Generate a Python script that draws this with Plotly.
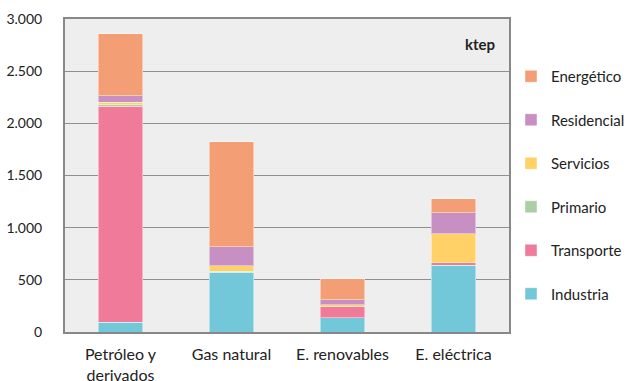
import plotly.graph_objects as go

categories = ["Petróleo y<br>derivados", "Gas natural", "E. renovables", "E. eléctrica"]

industria = [95, 575, 137, 642]
transporte = [2070, 3, 103, 20]
primario = [15, 2, 3, 2]
servicios = [20, 53, 19, 278]
residencial = [65, 185, 48, 200]
energetico = [595, 1007, 200, 134]

series = [
    ("Industria", industria, "#72C7D8"),
    ("Transporte", transporte, "#EF7A9A"),
    ("Primario", primario, "#A9CFA3"),
    ("Servicios", servicios, "#FFD166"),
    ("Residencial", residencial, "#C78FC2"),
    ("Energético", energetico, "#F39E74"),
]

fig = go.Figure()
n = len(series)
for i, (name, vals, color) in enumerate(series):
    fig.add_trace(go.Bar(
        name=name, x=categories, y=vals, legendgroup=name, legendrank=n - i,
        marker=dict(color=color, line=dict(color="rgba(255,255,255,0.45)", width=1)),
    ))

fig.update_layout(
    width=631, height=381,
    margin=dict(l=65, r=122, t=19, b=49, autoexpand=False),
    barmode="stack", bargap=0.6,
    paper_bgcolor="white", plot_bgcolor="#EEEEEE",
    font=dict(family="Lato", size=14, color="#222222"),
    separators=",.",
    showlegend=True,
    legend=dict(
        x=1.0045, y=0.869, xanchor="left", yanchor="top",
        traceorder="grouped", tracegroupgap=21,
        font=dict(size=15, color="#222222"), itemwidth=30,
    ),
    xaxis=dict(
        showline=True, linecolor="#888888", linewidth=2, mirror=True,
        ticks="", tickfont=dict(size=16), automargin=False,
        ticklabelstandoff=7,
    ),
    yaxis=dict(
        range=[0, 3000], dtick=500, tickformat=",d",
        showgrid=True, gridcolor="#8F8F8F", gridwidth=1,
        showline=True, linecolor="#888888", linewidth=2, mirror=True,
        ticks="", tickfont=dict(size=14), zeroline=False,
        automargin=False, ticklabelstandoff=18,
    ),
    annotations=[dict(
        text="<b>ktep</b>", xref="paper", yref="paper", x=0.973, y=0.92,
        xanchor="right", yanchor="middle", showarrow=False,
        font=dict(size=15, color="#222222"),
    )],
)

fig.write_html("out.html")
